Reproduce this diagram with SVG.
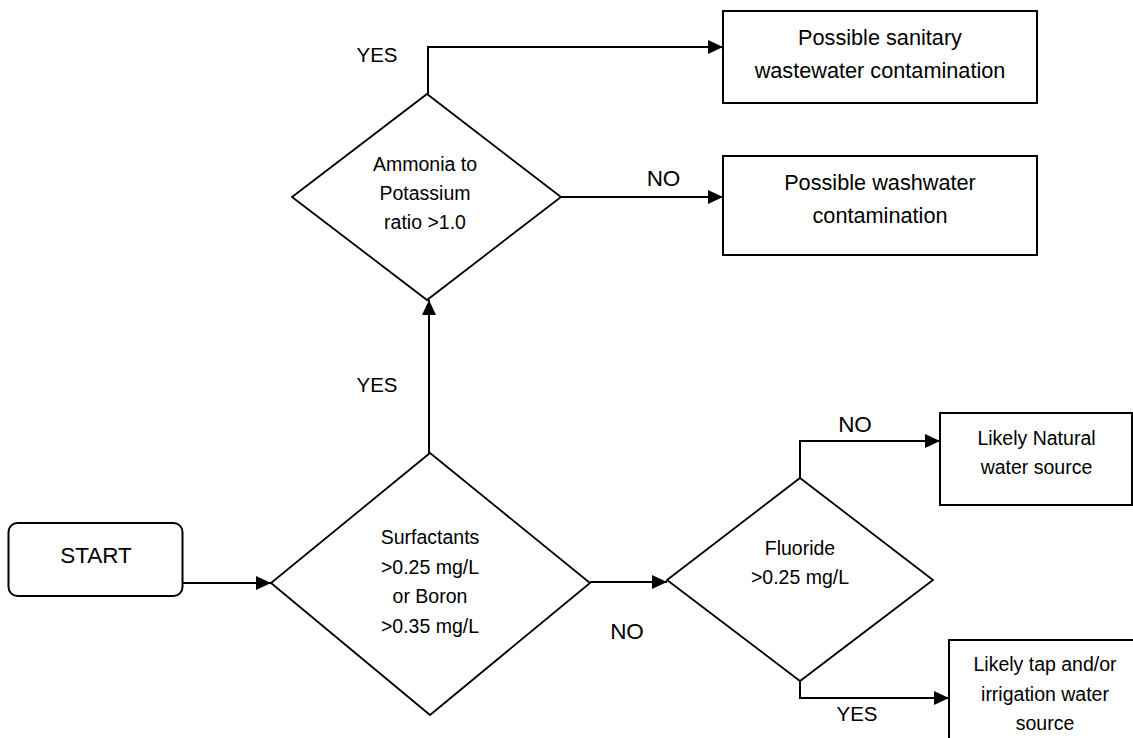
<svg xmlns="http://www.w3.org/2000/svg" width="1133" height="738" viewBox="0 0 1133 738">
<style>
.shape{fill:#fff;stroke:#000;stroke-width:2}
.dia{fill:#fff;stroke:#000;stroke-width:1.8}
.conn{fill:none;stroke:#000;stroke-width:2}
text{font-family:"Liberation Sans",Arial,sans-serif;fill:#000;text-anchor:middle}
.big{font-size:21.7px}
.mid{font-size:19.5px}
.lbl{font-size:20.5px}
.no{font-size:22.5px}
</style>
<defs>
<marker id="arrow" markerUnits="userSpaceOnUse" markerWidth="15" markerHeight="14" refX="15" refY="7" orient="auto">
<path d="M0,0 L15,7 L0,14 z" fill="#000"/>
</marker>
</defs>
<rect width="1133" height="738" fill="#fff"/>
<g id="connectors">
<path class="conn" d="M183,583 L271,583" marker-end="url(#arrow)"/>
<path class="conn" d="M429,453 L429,300" marker-end="url(#arrow)"/>
<path class="conn" d="M428,94 L428,47 L723,47" marker-end="url(#arrow)"/>
<path class="conn" d="M561,197 L723,197" marker-end="url(#arrow)"/>
<path class="conn" d="M590,582 L667,582" marker-end="url(#arrow)"/>
<path class="conn" d="M800,478 L800,441 L940,441" marker-end="url(#arrow)"/>
<path class="conn" d="M800,681 L800,698 L949,698" marker-end="url(#arrow)"/>
</g>
<g id="start">
<rect class="shape" x="8.5" y="523" width="174" height="73" rx="9"/>
<text x="96" y="563" style="font-size:22.5px">START</text>
</g>
<g id="surfactants">
<polygon class="dia" points="430,453 590,583 430,715 271,583"/>
<text class="mid" x="430" y="544">Surfactants</text>
<text class="mid" x="430" y="573.5">&gt;0.25 mg/L</text>
<text class="mid" x="430" y="603">or Boron</text>
<text class="mid" x="430" y="632.5">&gt;0.35 mg/L</text>
</g>
<g id="ammonia">
<polygon class="dia" points="427,94 561,197 427,300 292,197"/>
<text class="mid" x="425" y="171">Ammonia to</text>
<text class="mid" x="425" y="200">Potassium</text>
<text class="mid" x="425" y="229">ratio &gt;1.0</text>
</g>
<g id="fluoride">
<polygon class="dia" points="800,478 933,580 800,681 667,580"/>
<text class="mid" x="800" y="554.5">Fluoride</text>
<text class="mid" x="800" y="584">&gt;0.25 mg/L</text>
</g>
<g id="sanitary">
<rect class="shape" x="723" y="11" width="314" height="92"/>
<text class="big" x="880" y="45">Possible sanitary</text>
<text class="big" x="880" y="78">wastewater contamination</text>
</g>
<g id="washwater">
<rect class="shape" x="723" y="156" width="314" height="99"/>
<text class="big" x="880" y="190">Possible washwater</text>
<text class="big" x="880" y="223">contamination</text>
</g>
<g id="natural">
<rect class="shape" x="940" y="413" width="192" height="92"/>
<text class="mid" x="1036.5" y="444.5">Likely Natural</text>
<text class="mid" x="1036.5" y="474">water source</text>
</g>
<g id="tap">
<rect class="shape" x="949" y="640" width="196" height="120"/>
<text class="mid" x="1045" y="671">Likely tap and/or</text>
<text class="mid" x="1045" y="700.5">irrigation water</text>
<text class="mid" x="1045" y="730">source</text>
</g>
<g id="labels">
<text class="lbl" x="377" y="62">YES</text>
<text class="no" x="663.5" y="186">NO</text>
<text class="lbl" x="377" y="392">YES</text>
<text class="no" x="627" y="639">NO</text>
<text class="no" x="855" y="432">NO</text>
<text class="lbl" x="857" y="721">YES</text>
</g>
</svg>
